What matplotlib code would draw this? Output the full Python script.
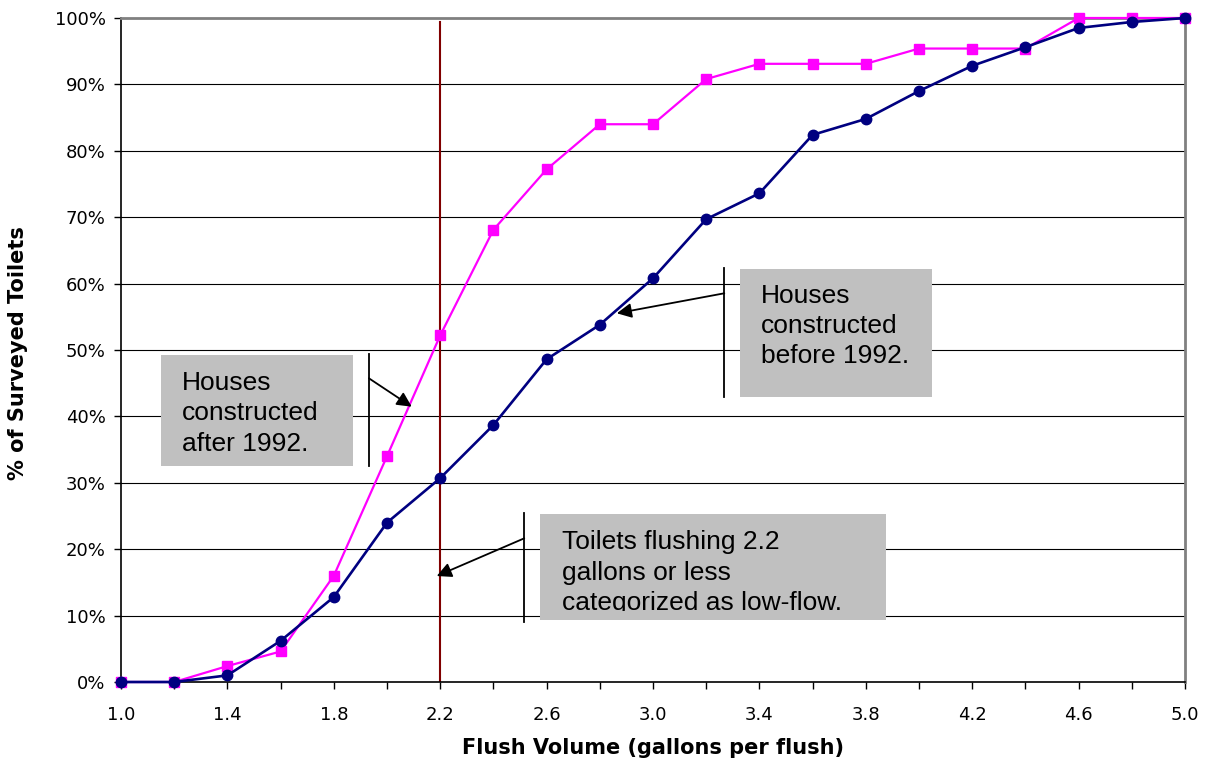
import matplotlib
matplotlib.use("Agg")
import matplotlib.pyplot as plt
from matplotlib.patches import Rectangle, FancyArrowPatch
from matplotlib.ticker import FuncFormatter, MultipleLocator

# Flush volume (gallons per flush)
flush_volume = [1.0, 1.2, 1.4, 1.6, 1.8, 2.0, 2.2, 2.4, 2.6, 2.8, 3.0,
                3.2, 3.4, 3.6, 3.8, 4.0, 4.2, 4.4, 4.6, 4.8, 5.0]

# Cumulative % of surveyed toilets
after_1992 = [0.0, 0.0, 2.4, 4.6, 16.0, 34.0, 52.2, 68.1, 77.2, 84.0, 84.0,
              90.8, 93.1, 93.1, 93.1, 95.4, 95.4, 95.4, 100.0, 100.0, 100.0]
before_1992 = [0.0, 0.0, 1.0, 6.2, 12.8, 24.0, 30.7, 38.7, 48.6, 53.8, 60.8,
               69.7, 73.6, 82.4, 84.8, 89.0, 92.8, 95.6, 98.5, 99.4, 100.0]

LOW_FLOW_LIMIT = 2.2
x_tick_labels = ["1.0", "", "1.4", "", "1.8", "", "2.2", "", "2.6", "", "3.0",
                 "", "3.4", "", "3.8", "", "4.2", "", "4.6", "", "5.0"]

fig = plt.figure(figsize=(12.12, 7.64), dpi=100)
ax = fig.add_axes([121 / 1212, 82 / 764, 1064 / 1212, 664 / 764])

ax.set_xlim(1.0, 5.0)
ax.set_ylim(0, 100)

# gridlines
for v in range(10, 100, 10):
    ax.axhline(v, color="black", lw=0.8, zorder=1)

# low-flow threshold
ax.axvline(LOW_FLOW_LIMIT, ymin=0, ymax=0.994, color="#800000", lw=1.5, zorder=2)

ax.plot(flush_volume, after_1992, color="#FF00FF", lw=1.6, marker="s",
        markersize=7.5, markeredgecolor="#FF00FF", zorder=3, clip_on=False)
ax.plot(flush_volume, before_1992, color="#000080", lw=1.9, marker="o",
        markersize=7.5, markeredgecolor="#000080", zorder=4, clip_on=False)

# spines
for side in ("left", "bottom"):
    ax.spines[side].set_color("black")
    ax.spines[side].set_linewidth(1.2)
for side in ("top", "right"):
    ax.spines[side].set_color("#808080")
    ax.spines[side].set_linewidth(2.0)

ax.set_xticks(flush_volume)
ax.set_xticklabels(x_tick_labels)
ax.yaxis.set_major_locator(MultipleLocator(10))
ax.yaxis.set_major_formatter(FuncFormatter(lambda v, p: f"{v:.0f}%"))
ax.tick_params(axis="both", direction="out", length=5, width=1.0,
               colors="black", labelsize=13)
ax.tick_params(axis="x", pad=12)
ax.tick_params(axis="y", pad=6)

ax.set_xlabel("Flush Volume (gallons per flush)", fontsize=15,
              fontweight="bold", va="center")
ax.xaxis.set_label_coords(0.5, -0.0994)
ax.set_ylabel("% of Surveyed Toilets", fontsize=15, fontweight="bold",
              va="center")
ax.yaxis.set_label_coords(-0.0968, 0.495)

# callout boxes
ann_font = dict(family="Liberation Sans", fontsize=19, color="black")


def callout(x0, y0, x1, y1, tx, ty, text, bar_x, bar_y0, bar_y1, tail, head,
            text_floor=None):
    box = Rectangle((x0, y0), x1 - x0, y1 - y0, facecolor="#C0C0C0",
                    edgecolor="none", zorder=5)
    ax.add_patch(box)
    floor = y0 if text_floor is None else text_floor
    clip = Rectangle((x0, floor), x1 - x0, y1 - floor, transform=ax.transData,
                     visible=False)
    ax.add_patch(clip)
    t = ax.text(tx, ty, text, va="baseline", ha="left", linespacing=1.33,
                zorder=6, clip_on=True, **ann_font)
    t.set_clip_path(clip)
    ax.plot([bar_x, bar_x], [bar_y0, bar_y1], color="black", lw=1.3, zorder=6)
    ax.add_patch(FancyArrowPatch(tail, head, arrowstyle="-|>",
                                 mutation_scale=22, color="black", lw=1.3,
                                 shrinkA=0, shrinkB=0, zorder=6))


callout(1.150, 32.57, 1.872, 49.25, 1.228, 34.83,
        "Houses\nconstructed\nafter 1992.",
        1.932, 32.57, 49.35, (1.932, 45.74), (2.093, 41.46))
callout(3.327, 42.92, 4.049, 62.15, 3.406, 47.99,
        "Houses\nconstructed\nbefore 1992.",
        3.268, 42.97, 62.35, (3.268, 58.54), (2.864, 55.53))
callout(2.575, 9.29, 3.875, 25.30, 2.657, 10.84,
        "Toilets flushing 2.2\ngallons or less\ncategorized as low-flow.",
        2.516, 9.08, 25.45, (2.516, 21.64), (2.187, 15.96), text_floor=10.70)

fig.savefig("out.png", dpi=100)
